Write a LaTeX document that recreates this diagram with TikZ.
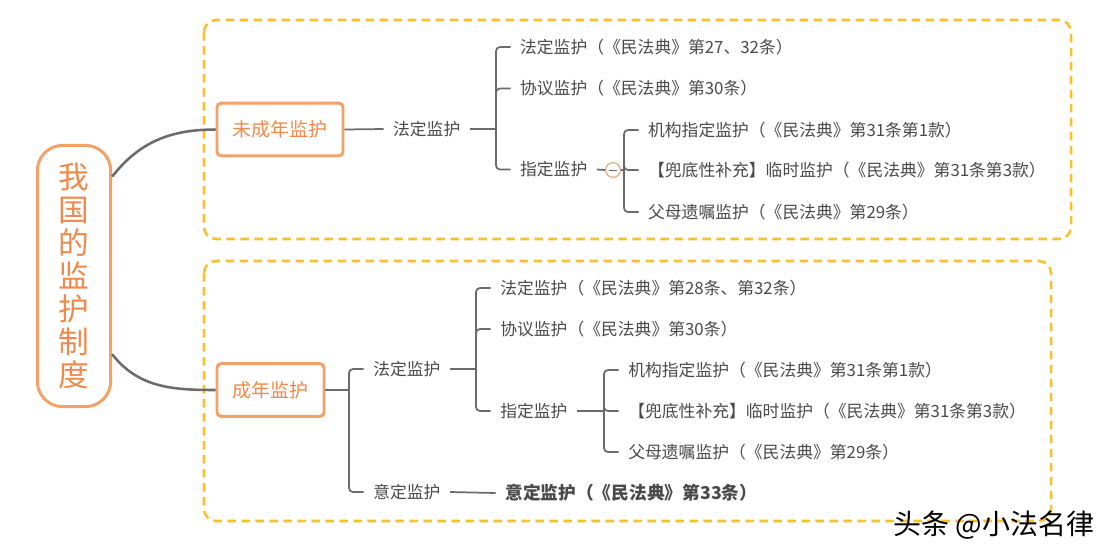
\documentclass[tikz,border=0pt]{standalone}
\usepackage{fontspec}
\setmainfont{Noto Sans CJK SC}
\definecolor{orgline}{HTML}{F4A168}
\definecolor{orgtext}{HTML}{F0894A}
\definecolor{dashy}{HTML}{FCC02E}
\definecolor{lgray}{HTML}{6B6B6B}
\definecolor{tgray}{HTML}{4A4A4A}
\definecolor{circ}{HTML}{D9A877}
\tikzset{
  dbox/.style={draw=dashy, line width=1.9pt, dash pattern=on 6.5pt off 4pt, rounded corners=9pt},
  rootbox/.style={draw=orgline, line width=2.2pt, rounded corners=19pt, text=orgtext, align=center,
     minimum width=55pt, minimum height=196pt, inner sep=0pt, font=\fontsize{23}{24.8}\selectfont},
  catbox/.style={draw=orgline, line width=2.2pt, rounded corners=3pt, text=orgtext, inner sep=0pt,
     minimum height=39.5pt, font=\fontsize{14.2}{16}\selectfont},
  curve/.style={draw=lgray, line width=1.9pt},
  stem/.style={draw=lgray, line width=1.3pt},
  br/.style={draw=lgray, line width=1.3pt, rounded corners=3pt},
  txt/.style={anchor=west, inner xsep=7pt, inner ysep=1pt, text=tgray, font=\fontsize{12.6}{14}\selectfont},
  fold/.style={circle, draw=circ, line width=0.8pt, minimum size=11pt, inner sep=0pt,
     path picture={\draw[lgray, line width=0.7pt] ([xshift=2.8pt]path picture bounding box.west) -- ([xshift=-2.8pt]path picture bounding box.east);}},
}
\begin{document}
\begin{tikzpicture}[x=0.75pt,y=-0.75pt]
\useasboundingbox[fill=white] (0,0) rectangle (1112,558);
% dashed group frames
\draw[dbox] (204,20) rectangle (1071,239);
\draw[dbox] (204,261) rectangle (1051,521);
% root
\node[rootbox] (root) at (74,276) {我\\国\\的\\监\\护\\制\\度};
% categories
\node[catbox, minimum width=94.5pt] (minor) at (280,129.5) {未成年监护};
\node[catbox, minimum width=80.25pt] (adult) at (270.5,390) {成年监护};
\draw[curve] (root.69) to[out=52,in=180] (minor.west);
\draw[curve] (root.-64) to[out=-52,in=180] (adult.west);
% ---- minors ----
\node[txt] (mfd) at (383.5,129) {法定监护};
\draw[stem] (minor.east) -- (mfd.west);
\node[txt] (ma1) at (510.5,47) {法定监护（《民法典》第27、32条）};
\node[txt] (ma2) at (510.5,88.5) {协议监护（《民法典》第30条）};
\node[txt] (ma3) at (510.5,169.5) {指定监护};
\coordinate (mj1) at (496,129);
\draw[stem] (mfd.east) -- (mj1);
\draw[br] (mj1) |- (ma1.west);
\draw[br] (mj1) |- (ma2.west);
\draw[br] (mj1) |- (ma3.west);
\node[fold] (mo) at (613,170) {};
\draw[stem] (ma3.east) -- (mo.west);
\node[txt] (mb1) at (638.5,130) {机构指定监护（《民法典》第31条第1款）};
\node[txt] (mb2) at (638.5,170) {【兜底性补充】临时监护（《民法典》第31条第3款）};
\node[txt] (mb3) at (638.5,212) {父母遗嘱监护（《民法典》第29条）};
\coordinate (mj2) at (624,170);
\draw[stem] (mo.east) -- (mj2);
\draw[br] (mj2) |- (mb1.west);
\draw[br] (mj2) |- (mb2.west);
\draw[br] (mj2) |- (mb3.west);
% ---- adults ----
\node[txt] (afd) at (363.7,369) {法定监护};
\node[txt] (ayd) at (363.7,492) {意定监护};
\coordinate (aj0) at (349,390);
\draw[stem] (adult.east) -- (aj0);
\draw[br] (aj0) |- (afd.west);
\draw[br] (aj0) |- (ayd.west);
\node[txt] (ac1) at (490.7,288) {法定监护（《民法典》第28条、第32条）};
\node[txt] (ac2) at (490.7,329) {协议监护（《民法典》第30条）};
\node[txt] (ac3) at (490.7,411) {指定监护};
\coordinate (aj1) at (476,369);
\draw[stem] (afd.east) -- (aj1);
\draw[br] (aj1) |- (ac1.west);
\draw[br] (aj1) |- (ac2.west);
\draw[br] (aj1) |- (ac3.west);
\node[txt] (ad1) at (618.7,370) {机构指定监护（《民法典》第31条第1款）};
\node[txt] (ad2) at (618.7,411) {【兜底性补充】临时监护（《民法典》第31条第3款）};
\node[txt] (ad3) at (618.7,452) {父母遗嘱监护（《民法典》第29条）};
\coordinate (aj2) at (604,411);
\draw[stem] (ac3.east) -- (aj2);
\draw[br] (aj2) |- (ad1.west);
\draw[br] (aj2) |- (ad2.west);
\draw[br] (aj2) |- (ad3.west);
\node[txt, font=\fontsize{13.3}{15}\selectfont\bfseries] (aydx) at (495.7,493) {意定监护（《民法典》第33条）};
\draw[stem] (ayd.east) -- (aydx.west);
% watermark
\node[anchor=west, inner sep=0pt, text=black, font=\fontsize{21}{24}\selectfont] (wm) at (893,525) {头条 @小法名律};
\end{tikzpicture}
\end{document}
